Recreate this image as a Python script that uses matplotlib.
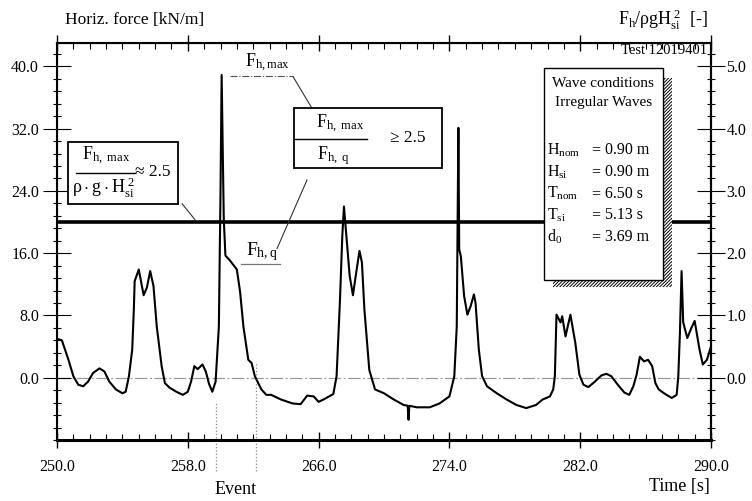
import matplotlib.pyplot as plt
from matplotlib.patches import Rectangle
from matplotlib.ticker import MultipleLocator, FixedLocator, FormatStrFormatter

plt.rcParams['font.family'] = ['Liberation Serif', 'DejaVu Serif']
plt.rcParams['mathtext.fontset'] = 'custom'
plt.rcParams['mathtext.rm'] = 'Liberation Serif'
plt.rcParams['mathtext.it'] = 'Liberation Serif'
plt.rcParams['mathtext.bf'] = 'Liberation Serif:bold'
plt.rcParams['hatch.linewidth'] = 0.7

# horizontal force time series [s], [kN/m]
time = [250.0, 250.3, 250.7, 251.0, 251.3, 251.6, 251.9, 252.2, 252.6, 252.9,
        253.2, 253.6, 254.0, 254.2, 254.4, 254.6, 254.7, 254.75, 255.0, 255.3,
        255.5, 255.7, 255.9, 256.1, 256.4, 256.6, 256.9, 257.3, 257.7, 258.0,
        258.2, 258.4, 258.6, 258.9, 259.1, 259.3, 259.5, 259.7, 259.9, 260.0,
        260.07, 260.13, 260.2, 260.3, 260.6, 261.0, 261.2, 261.4, 261.7, 261.9,
        262.1, 262.5, 262.8, 263.1, 263.7, 264.4, 264.9, 265.3, 265.7, 266.0,
        266.3, 266.9, 267.1, 267.3, 267.45, 267.55, 267.7, 267.9, 268.1, 268.3,
        268.5, 268.65, 268.8, 269.1, 269.45, 270.0, 270.6, 271.2, 271.45, 271.5,
        271.55, 272.0, 272.8, 273.4, 274.0, 274.3, 274.45, 274.5, 274.55, 274.6,
        274.7, 274.9, 275.1, 275.3, 275.5, 275.6, 275.8, 276.0, 276.3, 276.9,
        277.5, 278.1, 278.7, 279.3, 279.7, 280.15, 280.35, 280.45, 280.55, 280.8,
        280.9, 281.1, 281.4, 281.7, 281.95, 282.2, 282.5, 282.9, 283.3, 283.6,
        283.9, 284.3, 284.7, 285.0, 285.25, 285.45, 285.65, 285.9, 286.15, 286.4,
        286.6, 286.8, 287.2, 287.6, 287.9, 288.0, 288.1, 288.2, 288.3, 288.55,
        288.8, 289.0, 289.3, 289.5, 289.75, 290.0]
force = [5.0, 4.8, 2.3, 0.2, -0.9, -1.1, -0.5, 0.6, 1.2, 0.8,
         -0.5, -1.5, -2.0, -1.8, 0.2, 3.6, 8.8, 12.4, 13.9, 10.6,
         11.6, 13.7, 11.8, 6.6, 1.5, -0.7, -1.3, -1.8, -2.2, -1.8,
         -0.5, 1.5, 1.1, 1.7, 0.8, -0.8, -1.8, -0.5, 6.6, 23.8,
         38.9, 30.0, 20.4, 15.7, 15.0, 13.9, 11.0, 6.6, 2.3, 1.9,
         0.2, -1.5, -2.2, -2.2, -2.8, -3.3, -3.4, -2.3, -2.4, -3.1,
         -2.8, -2.1, 0.2, 9.6, 18.2, 22.0, 18.2, 13.1, 10.6, 13.5,
         16.3, 14.8, 8.8, 1.0, -1.5, -2.0, -2.8, -3.5, -3.6, -5.4,
         -3.6, -3.8, -3.8, -3.3, -2.4, 0.2, 6.6, 20.0, 32.1, 16.5,
         15.6, 10.5, 8.1, 9.2, 10.7, 9.6, 3.6, 0.2, -1.1, -2.0,
         -2.8, -3.5, -3.9, -3.5, -2.8, -2.4, -1.5, 0.2, 8.1, 7.1,
         7.9, 5.3, 8.1, 4.5, 0.4, -0.9, -1.2, -0.5, 0.3, 0.5,
         0.2, -0.9, -1.9, -2.2, -1.1, 0.4, 2.7, 2.1, 2.3, 1.5,
         -0.7, -1.5, -2.1, -2.6, -2.2, 0.2, 5.8, 13.7, 7.1, 5.1,
         6.4, 7.3, 3.6, 1.7, 2.3, 4.0]

threshold = 20.0
event_times = [259.7, 262.2]
event_tops = [-3.1, 1.9]

time_ticks = [250, 258, 266, 274, 282, 290]
left_ticks = [0, 8, 16, 24, 32, 40]
right_ticks = [0, 1, 2, 3, 4, 5]

wave_names = [r'$H_{nom}$', r'$H_{si}$', r'$T_{nom}$', r'$T_{si}$', r'$d_0$']
wave_values = ['0.90 m', '0.90 m', '6.50 s', '5.13 s', '3.69 m']

W, H = 752, 501
fig = plt.figure(figsize=(W / 100, H / 100), dpi=100)
ax = fig.add_axes([57 / W, 61 / H, 654 / W, 397 / H])

ax.plot(time, force, color='black', lw=1.5, zorder=3)
ax.axhline(0, color='#9a9a9a', lw=0.9, dashes=(10, 2, 1.5, 2), zorder=1)
ax.axhline(threshold, color='black', lw=2.6, zorder=2)

for t, top in zip(event_times, event_tops):
    ax.plot([t, t], [-12.0, top], color='#888888', lw=0.9, ls=':', clip_on=False)

ax.set_xlim(250, 290)
ax.set_ylim(-8, 43)
ax.xaxis.set_major_locator(FixedLocator(time_ticks))
ax.xaxis.set_minor_locator(MultipleLocator(1))
ax.yaxis.set_major_locator(FixedLocator(left_ticks))
ax.yaxis.set_minor_locator(MultipleLocator(1.6))
ax.xaxis.set_major_formatter(FormatStrFormatter('%.1f'))
ax.yaxis.set_major_formatter(FormatStrFormatter('%.1f'))
ax.tick_params(axis='x', which='major', direction='inout', length=11, width=1.0,
               top=True, labelsize=11.5, pad=8)
ax.tick_params(axis='x', which='minor', direction='in', length=4, width=0.8, top=True)
ax.tick_params(axis='y', which='major', direction='inout', length=20, width=0.8,
               labelsize=11.5, pad=3)
ax.tick_params(axis='y', which='minor', direction='inout', length=6, width=0.8)
for side in ['left', 'right', 'top']:
    ax.spines[side].set_linewidth(1.5)
ax.spines['bottom'].set_linewidth(2.2)

ax2 = ax.twinx()
ax2.set_ylim(-8 / 8, 43 / 8)
ax2.yaxis.set_major_locator(FixedLocator(right_ticks))
ax2.yaxis.set_minor_locator(MultipleLocator(0.2))
ax2.yaxis.set_major_formatter(FormatStrFormatter('%.1f'))
ax2.tick_params(axis='y', which='major', direction='inout', length=20, width=0.8,
                labelsize=11.5, pad=1)
ax2.tick_params(axis='y', which='minor', direction='inout', length=6, width=0.8)
ax2.spines['right'].set_linewidth(1.5)
ax2.patch.set_visible(False)

# annotations in the force axes
txt = dict(color='black', zorder=6)
ax.text(262.9, 40.5, r'$F_{h,max}$', fontsize=13, ha='center', va='center', **txt)
ax.plot([260.58, 264.43], [38.7, 38.7], color='#555555', lw=0.8, ls='-.', zorder=4)
ax.plot([264.43, 265.6], [38.7, 34.6], color='#333333', lw=0.8, zorder=4)

ax.add_patch(Rectangle((264.5, 26.95), 9.05, 7.65, facecolor='white',
                       edgecolor='black', lw=1.3, zorder=5))
ax.text(267.31, 32.57, r'$F_{h,\ max}$', fontsize=13, ha='center', va='center', **txt)
ax.plot([264.56, 268.96], [30.65, 30.65], color='black', lw=1.0, zorder=6)
ax.text(266.88, 28.6, r'$F_{h,\ q}$', fontsize=13, ha='center', va='center', **txt)
ax.text(271.47, 30.78, '\u2265 2.5', fontsize=12.5, ha='center', va='center', **txt)
ax.plot([265.29, 263.46], [25.4, 16.6], color='#333333', lw=0.8, zorder=4)
ax.text(262.54, 16.2, r'$F_{h,q}$', fontsize=14, ha='center', va='center', **txt)
ax.plot([261.25, 263.64], [14.56, 14.56], color='#777777', lw=0.9, zorder=4)

ax.add_patch(Rectangle((250.67, 22.35), 6.73, 7.92, facecolor='white',
                       edgecolor='black', lw=1.3, zorder=5))
ax.text(253.0, 28.48, r'$F_{h,\ max}$', fontsize=13, ha='center', va='center', **txt)
ax.plot([251.16, 254.77], [26.31, 26.31], color='black', lw=1.0, zorder=6)
ax.text(252.81, 24.39, r'$\rho\cdot g\cdot H_{si}^{\,2}$', fontsize=13,
        ha='center', va='center', **txt)
ax.text(254.8, 26.44, '\u2248 2.5', fontsize=12.5, ha='left', va='center', **txt)
ax.plot([257.65, 258.44], [22.35, 20.3], color='#333333', lw=0.8, zorder=4)

# wave conditions box with hatched shadow
ax.add_patch(Rectangle((0.7584, 0.3854), 0.182, 0.5264, transform=ax.transAxes,
                       facecolor='white', edgecolor='black', lw=0, hatch='/' * 10,
                       zorder=6))
ax.add_patch(Rectangle((0.7446, 0.403), 0.182, 0.534, transform=ax.transAxes,
                       facecolor='white', edgecolor='black', lw=1.0, zorder=7))
ax.text(0.835, 0.899, 'Wave conditions', transform=ax.transAxes, fontsize=11,
        ha='center', va='center', zorder=8)
ax.text(0.835, 0.849, 'Irregular Waves', transform=ax.transAxes, fontsize=11,
        ha='center', va='center', zorder=8)
for i, (name, val) in enumerate(zip(wave_names, wave_values)):
    y = 0.730 - i * 0.0548
    ax.text(0.749, y, name, transform=ax.transAxes, fontsize=11.5,
            ha='left', va='center', zorder=8)
    ax.text(0.824, y, '=', transform=ax.transAxes, fontsize=11.5,
            ha='center', va='center', zorder=8)
    ax.text(0.838, y, val, transform=ax.transAxes, fontsize=11.5,
            ha='left', va='center', zorder=8)

ax.text(0.994, 0.982, 'Test 12019401', transform=ax.transAxes, fontsize=10.5,
        ha='right', va='center', zorder=8)

# outer labels
fig.text(65 / W, 1 - 20 / H, 'Horiz. force [kN/m]', fontsize=12.5, ha='left', va='center')
fig.text(708 / W, 1 - 20 / H, r'$F_h/\rho g H_{si}^{\,2}$  [-]', fontsize=13,
         ha='right', va='center')
fig.text(710 / W, 1 - 486 / H, 'Time [s]', fontsize=13, ha='right', va='center')
fig.text(236 / W, 1 - 489 / H, 'Event', fontsize=13, ha='center', va='center')

fig.savefig('out.png', dpi=100)
